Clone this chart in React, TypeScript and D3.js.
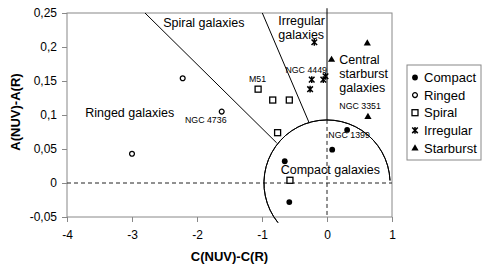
import { useEffect, useRef } from "react";
import * as d3 from "d3";

// ── Data ────────────────────────────────────────────────────────────────────
const compactX = [0.31, 0.08, -0.65, -0.58];
const compactY = [0.078, 0.049, 0.032, -0.028];
const ringedX = [-2.22, -1.62, -3.0];
const ringedY = [0.154, 0.105, 0.043];
const spiralX = [-1.06, -0.835, -0.58, -0.76, -0.57];
const spiralY = [0.138, 0.122, 0.122, 0.074, 0.004];
const irregularX = [-0.195, -0.235, -0.26, -0.057, -0.023];
const irregularY = [0.207, 0.152, 0.138, 0.152, 0.157];
const starburstX = [0.62, 0.07, 0.63];
const starburstY = [0.206, 0.182, 0.098];

const legendLabels = ["Compact", "Ringed", "Spiral", "Irregular", "Starburst"];
const xTicks = [-4, -3, -2, -1, 0, 1];
const yTicks = [-0.05, 0, 0.05, 0.1, 0.15, 0.2, 0.25];

// region boundaries, in data units
const boundary1 = [[-2.8, 0.25], [-0.774, 0.059]];
const boundary2 = [[-0.995, 0.25], [-0.272, 0.088]];
const circleR = 0.97; // radius in x units, drawn round on screen

const regionLabels = [
  { lines: ["Spiral galaxies"], x: -2.52, y: 0.229 },
  { lines: ["Ringed galaxies"], x: -3.72, y: 0.097 },
  { lines: ["Irregular", "galaxies"], x: -0.75, y: 0.2326 },
  { lines: ["Central", "starburst", "galaxies"], x: 0.19, y: 0.175 },
  { lines: ["Compact galaxies"], x: -0.712, y: 0.0128 },
];
const nameLabels = [
  { text: "NGC 4449", x: -0.64, y: 0.1614 },
  { text: "M51", x: -1.2, y: 0.1485 },
  { text: "NGC 4736", x: -2.185, y: 0.0876 },
  { text: "NGC 3351", x: 0.19, y: 0.1087 },
  { text: "NGC 1399", x: 0.02, y: 0.066 },
];

const W = 487;
const H = 273;
const M = { top: 13, right: 95, bottom: 56, left: 67 };
const FONT = "'Liberation Sans', Arial, sans-serif";
const fmt = (v: number) => String(+v.toFixed(2)).replace(".", ",");

export default function App() {
  const svgRef = useRef<SVGSVGElement>(null);

  useEffect(() => {
    const svg = d3.select(svgRef.current);
    svg.selectAll("*").remove();

    const x = d3.scaleLinear().domain([-4, 1]).range([M.left, W - M.right]);
    const y = d3.scaleLinear().domain([-0.05, 0.25]).range([H - M.bottom, M.top]);

    svg.append("rect").attr("width", W).attr("height", H).attr("fill", "#fff");

    // plot frame
    svg.append("rect")
      .attr("x", x(-4)).attr("y", y(0.25))
      .attr("width", x(1) - x(-4)).attr("height", y(-0.05) - y(0.25))
      .attr("fill", "none").attr("stroke", "#888").attr("stroke-width", 1);

    // axes
    const styleAxis = (sel: any) => {
      sel.select(".domain").remove();
      sel.selectAll("line").attr("stroke", "#888");
      sel.selectAll("text").attr("fill", "#000").attr("font-size", 12).attr("font-family", FONT);
    };
    svg.append("g")
      .attr("transform", `translate(0,${y(-0.05)})`)
      .call(d3.axisBottom(x).tickValues(xTicks).tickFormat((d: any) => String(d)).tickSize(5).tickPadding(8))
      .call(styleAxis);
    svg.append("g")
      .attr("transform", `translate(${x(-4)},0)`)
      .call(d3.axisLeft(y).tickValues(yTicks).tickFormat((d: any) => fmt(d)).tickSize(5).tickPadding(5))
      .call(styleAxis);

    // axis titles
    svg.append("text")
      .attr("x", (x(-4) + x(1)) / 2).attr("y", 261)
      .attr("text-anchor", "middle").attr("font-family", FONT)
      .attr("font-size", 13).attr("font-weight", "bold")
      .text("C(NUV)-C(R)");
    svg.append("text")
      .attr("transform", `translate(20,${(y(0.25) + y(-0.05)) / 2 - 3}) rotate(-90)`)
      .attr("text-anchor", "middle").attr("font-family", FONT)
      .attr("font-size", 13).attr("font-weight", "bold")
      .text("A(NUV)-A(R)");

    // dashed reference lines
    svg.append("line")
      .attr("x1", x(-4)).attr("x2", x(1)).attr("y1", y(0)).attr("y2", y(0))
      .attr("stroke", "#222").attr("stroke-dasharray", "4,3");
    const rPx = x(circleR) - x(0);
    svg.append("line")
      .attr("x1", x(0)).attr("x2", x(0)).attr("y1", y(0) - rPx).attr("y2", y(-0.05))
      .attr("stroke", "#222").attr("stroke-dasharray", "4,3");
    svg.append("line")
      .attr("x1", x(0)).attr("x2", x(0)).attr("y1", y(0.257)).attr("y2", y(0) - rPx)
      .attr("stroke", "#000");

    // region boundaries
    for (const b of [boundary1, boundary2]) {
      svg.append("line")
        .attr("x1", x(b[0][0])).attr("y1", y(b[0][1]))
        .attr("x2", x(b[1][0])).attr("y2", y(b[1][1]))
        .attr("stroke", "#000").attr("stroke-width", 1);
    }
    const arc = d3.arc()
      .innerRadius(rPx).outerRadius(rPx)
      .startAngle(-Math.PI * 0.5 - 0.68)
      .endAngle(Math.PI * 0.5 - 0.04);
    svg.append("path")
      .attr("transform", `translate(${x(0)},${y(0)})`)
      .attr("d", arc({} as any) as string)
      .attr("fill", "none").attr("stroke", "#000").attr("stroke-width", 1);

    // region labels
    for (const r of regionLabels) {
      const t = svg.append("text")
        .attr("x", x(r.x)).attr("y", y(r.y))
        .attr("font-family", FONT).attr("font-size", 12.5).attr("fill", "#000");
      r.lines.forEach((ln, i) => {
        t.append("tspan").attr("x", x(r.x)).attr("dy", i === 0 ? 0 : 14).text(ln);
      });
    }
    for (const n of nameLabels) {
      svg.append("text")
        .attr("x", x(n.x)).attr("y", y(n.y))
        .attr("font-family", FONT).attr("font-size", 8.8).attr("fill", "#000")
        .text(n.text);
    }

    // markers
    const drawMarker = (g: any, kind: string) => {
      if (kind === "Compact") {
        g.append("circle").attr("r", 2.9).attr("fill", "#000");
      } else if (kind === "Ringed") {
        g.append("circle").attr("r", 2.4).attr("fill", "#fff").attr("stroke", "#000").attr("stroke-width", 1.3);
      } else if (kind === "Spiral") {
        g.append("rect").attr("x", -3).attr("y", -3).attr("width", 6).attr("height", 6)
          .attr("fill", "#fff").attr("stroke", "#000").attr("stroke-width", 1.3);
      } else if (kind === "Irregular") {
        g.append("path").attr("d", "M-2.8,-2.8L2.8,2.8M-2.8,2.8L2.8,-2.8M0,-3.4L0,3.4")
          .attr("stroke", "#000").attr("stroke-width", 1.5);
      } else {
        g.append("path").attr("d", "M0,-3.6L3.6,2.6L-3.6,2.6Z").attr("fill", "#000");
      }
    };
    const series: [string, number[], number[]][] = [
      ["Compact", compactX, compactY],
      ["Ringed", ringedX, ringedY],
      ["Spiral", spiralX, spiralY],
      ["Irregular", irregularX, irregularY],
      ["Starburst", starburstX, starburstY],
    ];
    for (const [kind, xs, ys] of series) {
      xs.forEach((v, i) => {
        const g = svg.append("g").attr("transform", `translate(${x(v)},${y(ys[i])})`);
        drawMarker(g, kind);
      });
    }

    // legend
    const lg = svg.append("g").attr("transform", "translate(407,65)");
    lg.append("rect").attr("width", 74).attr("height", 95)
      .attr("fill", "#fff").attr("stroke", "#888");
    legendLabels.forEach((lab, i) => {
      const cy = 12.5 + i * 17.6;
      drawMarker(lg.append("g").attr("transform", `translate(8,${cy})`), lab);
      lg.append("text").attr("x", 17).attr("y", cy).attr("dy", "0.36em")
        .attr("font-family", FONT).attr("font-size", 13).attr("fill", "#000").text(lab);
    });
  }, []);

  return (
    <svg
      ref={svgRef}
      width={W}
      height={H}
      style={{ position: "absolute", left: 0, top: 0, display: "block" }}
    />
  );
}
